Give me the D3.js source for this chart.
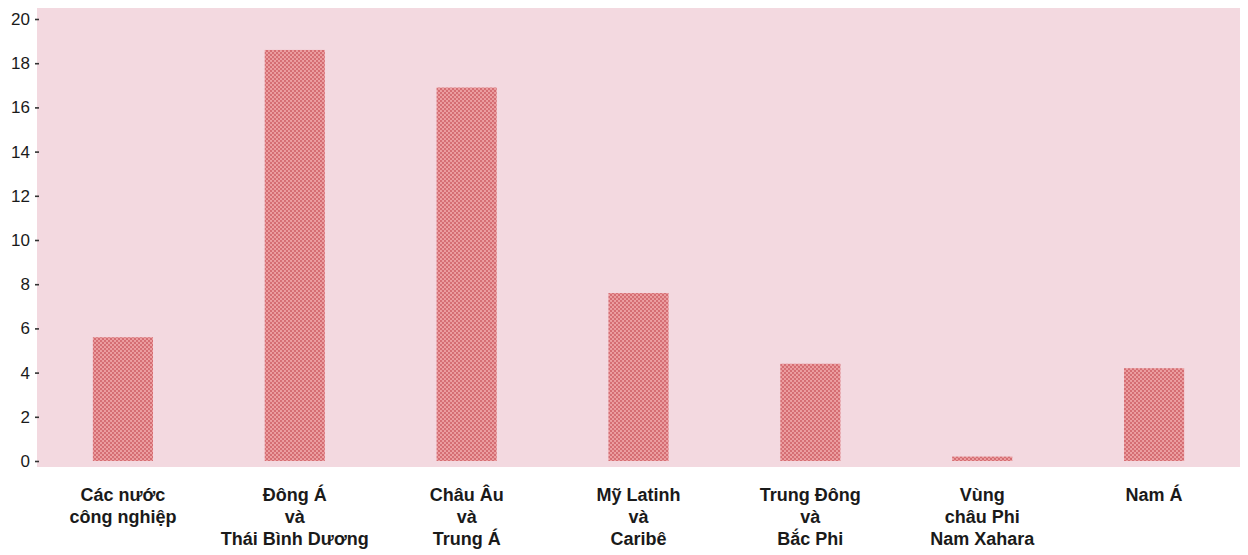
<!DOCTYPE html>
<html>
<head>
<meta charset="utf-8">
<script src="https://cdn.jsdelivr.net/npm/d3@7"></script>
<style>
  html, body { margin: 0; padding: 0; background: #ffffff; }
  svg { display: block; }
  text { font-family: "Liberation Sans", Arial, sans-serif; fill: #1a1a1a; }
</style>
</head>
<body>
<svg id="chart" width="1248" height="555"></svg>
<script>
// Regions shown on the horizontal axis (each entry is one line of the label)
const regionLabels = [
  ["Các nước", "công nghiệp"],
  ["Đông Á", "và", "Thái Bình Dương"],
  ["Châu Âu", "và", "Trung Á"],
  ["Mỹ Latinh", "và", "Caribê"],
  ["Trung Đông", "và", "Bắc Phi"],
  ["Vùng", "châu Phi", "Nam Xahara"],
  ["Nam Á"]
];
const regionKeys = ["ind", "eap", "eca", "lac", "mena", "ssa", "sa"];
const values = [5.6, 18.6, 16.9, 7.6, 4.4, 0.2, 4.2];
const yTicks = [0, 2, 4, 6, 8, 10, 12, 14, 16, 18, 20];

const svg = d3.select("#chart");

const plot = { left: 37, right: 1240, top: 8, bottom: 467 };

const x = d3.scaleBand()
  .domain(regionKeys)
  .range([plot.left, plot.right])
  .paddingInner(0.65)
  .paddingOuter(0.325);

const y = d3.scaleLinear()
  .domain([0, 20])
  .range([461, 19]);

// Dotted screen used to fill the bars
const defs = svg.append("defs");
const pat = defs.append("pattern")
  .attr("id", "dots")
  .attr("width", 4).attr("height", 4)
  .attr("patternUnits", "userSpaceOnUse");
pat.append("rect").attr("width", 4).attr("height", 4).attr("fill", "#eda0a2");
pat.append("circle").attr("cx", 1).attr("cy", 1).attr("r", 1.15).attr("fill", "#d46b71");
pat.append("circle").attr("cx", 3).attr("cy", 3).attr("r", 1.15).attr("fill", "#d46b71");

// Plot background
svg.append("rect")
  .attr("x", plot.left).attr("y", plot.top)
  .attr("width", plot.right - plot.left)
  .attr("height", plot.bottom - plot.top)
  .attr("fill", "#f3d9e0");

// Bars
svg.append("g")
  .selectAll("rect")
  .data(values)
  .join("rect")
  .attr("x", (d, i) => x(regionKeys[i]))
  .attr("y", d => y(d))
  .attr("width", x.bandwidth())
  .attr("height", d => y(0) - y(d))
  .attr("fill", "url(#dots)");

// Left axis: numbers with short dash ticks
const yAxis = d3.axisLeft(y)
  .tickValues(yTicks)
  .tickSize(4)
  .tickPadding(5)
  .tickFormat(d3.format("d"));

const gy = svg.append("g")
  .attr("transform", `translate(${plot.left + 2},0)`)
  .call(yAxis);
gy.select(".domain").remove();
gy.selectAll(".tick line").attr("stroke", "#333").attr("stroke-width", 1.6);
gy.selectAll(".tick text")
  .style("font-size", "17px")
  .style("font-family", "\"Liberation Sans\", Arial, sans-serif")
  .attr("fill", "#1a1a1a");

// Bottom category labels, centred under each bar
const gx = svg.append("g");
regionLabels.forEach((lines, i) => {
  const cx = x(regionKeys[i]) + x.bandwidth() / 2;
  const t = gx.append("text")
    .attr("x", cx)
    .attr("y", 501)
    .attr("text-anchor", "middle")
    .style("font-size", "18px")
    .style("font-weight", "bold");
  lines.forEach((ln, j) => {
    t.append("tspan").attr("x", cx).attr("dy", j === 0 ? 0 : 22).text(ln);
  });
});
</script>
</body>
</html>
